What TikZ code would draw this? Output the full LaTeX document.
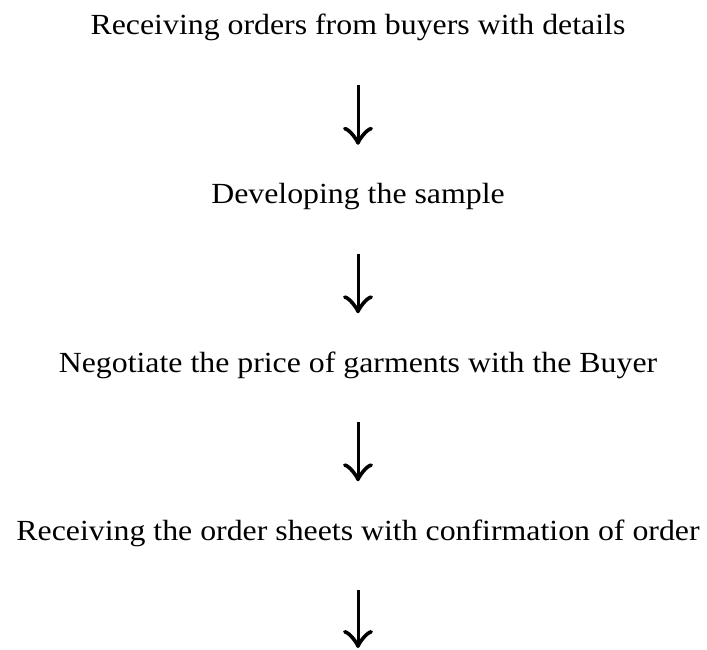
\documentclass[tikz,border=0pt]{standalone}
\usepackage{fontspec}
\setmainfont{Liberation Serif}[FakeStretch=1.09]
\usetikzlibrary{arrows.meta}
\tikzset{
  steptext/.style={anchor=base, inner sep=0pt, text height=20pt, text depth=6pt,
    font=\fontsize{29.2pt}{32pt}\selectfont},
  flowarrow/.style={line width=3pt,
    -{Classical TikZ Rightarrow[length=18pt, width=30pt, line width=3.6pt]},
    shorten <=44pt}
}
\begin{document}
\begin{tikzpicture}[x=1pt, y=1pt]
  \useasboundingbox (0,0) rectangle (707,-650);
  \node[steptext] (s1) at (358,-35) {Receiving orders from buyers with details};
  \node[steptext] (s2) at (358,-203.5) {Developing the sample};
  \node[steptext] (s3) at (358,-372) {Negotiate the price of garments with the Buyer};
  \node[steptext] (s4) at (358,-540) {Receiving the order sheets with confirmation of order};
  \coordinate (end) at (358,-648);
  \draw[flowarrow, shorten >=38.5pt] (s1.south) -- (s2.north);
  \draw[flowarrow, shorten >=38.5pt] (s2.south) -- (s3.north);
  \draw[flowarrow, shorten >=38.5pt] (s3.south) -- (s4.north);
  \draw[flowarrow] (s4.south) -- (end);
\end{tikzpicture}
\end{document}
